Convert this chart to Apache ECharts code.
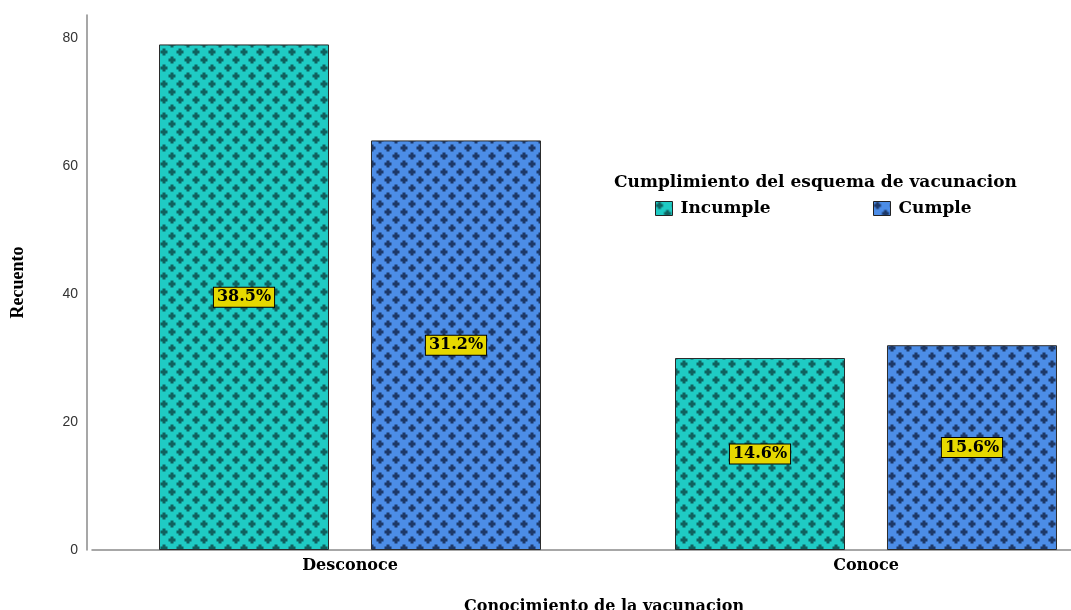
<!DOCTYPE html>
<html>
<head>
<meta charset="utf-8">
<script src="https://cdn.jsdelivr.net/npm/echarts@6/dist/echarts.min.js"></script>
<style>
  html, body { margin: 0; padding: 0; background: #ffffff; overflow: hidden; }
  #chart { width: 1124px; height: 610px; }
</style>
</head>
<body>
<div id="chart"></div>
<script>
// Counts by knowledge of vaccination and compliance with the schedule
const categories = ['Desconoce', 'Conoce'];
const seriesNames = ['Incumple', 'Cumple'];
const incumple = [79, 30];
const cumple = [64, 32];
const yMax = 83.6;
const yStep = 20;

const total = incumple.concat(cumple).reduce((a, b) => a + b, 0);

// Tiled fill: small dark crosses on a staggered grid
function makePattern(base, dark) {
  const c = document.createElement('canvas');
  c.width = 16; c.height = 16;
  const g = c.getContext('2d');
  g.fillStyle = base;
  g.fillRect(0, 0, c.width, c.height);
  g.fillStyle = dark;
  const cross = (x, y) => {
    g.fillRect(x - 3.5, y - 1.5, 7, 3);
    g.fillRect(x - 1.5, y - 3.5, 3, 7);
  };
  cross(4, 4);
  cross(12, 12);
  return c;
}

const tealFill = { image: makePattern('#1fcbc4', '#10605e'), repeat: 'repeat' };
const blueFill = { image: makePattern('#4c8de7', '#1d3868'), repeat: 'repeat' };

const serif = 'DejaVu Serif';

const labelStyle = {
  show: true,
  position: 'inside',
  formatter: p => (p.value / total * 100).toFixed(1) + '%',
  fontFamily: serif,
  fontWeight: 'bold',
  fontSize: 16,
  lineHeight: 18,
  color: '#000',
  backgroundColor: '#e6d800',
  borderColor: '#000',
  borderWidth: 1,
  padding: [1, 3, 0, 3]
};

const chart = echarts.init(document.getElementById('chart'), null, { renderer: 'canvas' });

chart.setOption({
  animation: false,
  backgroundColor: '#ffffff',
  title: [
    {
      text: 'Cumplimiento del esquema de vacunacion',
      left: 609, top: 169,
      textStyle: { fontFamily: serif, fontWeight: 'bold', fontSize: 17, color: '#000' }
    },
    {
      text: 'Conocimiento de la vacunacion',
      left: 459, top: 594,
      textStyle: { fontFamily: serif, fontWeight: 'bold', fontSize: 16, color: '#000' }
    }
  ],
  legend: [
    {
      data: [seriesNames[0]], left: 650, top: 195,
      itemWidth: 17, itemHeight: 14, icon: 'rect', itemGap: 0,
      itemStyle: { borderColor: '#222', borderWidth: 1 },
      textStyle: { fontFamily: serif, fontWeight: 'bold', fontSize: 17, color: '#000', padding: [0, 0, 0, 3] }
    },
    {
      data: [seriesNames[1]], left: 868, top: 195,
      itemWidth: 17, itemHeight: 14, icon: 'rect', itemGap: 0,
      itemStyle: { borderColor: '#222', borderWidth: 1 },
      textStyle: { fontFamily: serif, fontWeight: 'bold', fontSize: 17, color: '#000', padding: [0, 0, 0, 3] }
    }
  ],
  grid: { left: 92, top: 15, right: 0, height: 535, containLabel: false },
  xAxis: {
    type: 'category',
    data: categories,
    axisLine: { lineStyle: { color: '#8a8a8a', width: 1.5 } },
    axisTick: { show: false },
    axisLabel: {
      margin: 8,
      fontFamily: serif, fontWeight: 'bold', fontSize: 16, color: '#000'
    }
  },
  yAxis: {
    type: 'value',
    min: 0, max: yMax, interval: yStep,
    offset: 5,
    name: 'Recuento',
    nameLocation: 'middle',
    nameGap: 60,
    nameRotate: 90,
    nameTextStyle: { fontFamily: 'Liberation Serif', fontWeight: 'bold', fontSize: 18, color: '#000' },
    axisLine: { show: true, lineStyle: { color: '#8a8a8a', width: 1.5 } },
    axisTick: { show: false },
    splitLine: { show: false },
    axisLabel: {
      margin: 9,
      showMaxLabel: false,
      formatter: v => (v % yStep === 0 ? String(v) : ''),
      fontFamily: 'Liberation Sans', fontSize: 14, color: '#333'
    }
  },
  series: [
    {
      name: seriesNames[0], type: 'bar', data: incumple,
      barWidth: 170, barGap: '24.7%',
      itemStyle: { color: tealFill, borderColor: '#2b2b2b', borderWidth: 1 },
      label: labelStyle
    },
    {
      name: seriesNames[1], type: 'bar', data: cumple,
      barWidth: 170, barGap: '24.7%',
      itemStyle: { color: blueFill, borderColor: '#2b2b2b', borderWidth: 1 },
      label: labelStyle
    }
  ]
});
</script>
</body>
</html>
